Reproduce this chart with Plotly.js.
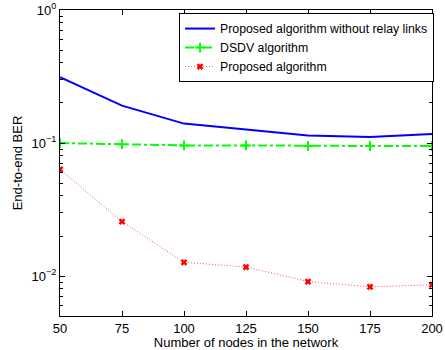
<!DOCTYPE html>
<html>
<head>
<meta charset="utf-8">
<script src="https://cdn.plot.ly/plotly-3.0.1.min.js"></script>
<style>html,body{margin:0;padding:0;background:#fff;}#chart{width:445px;height:350px;}</style>
</head>
<body>
<div id="chart"></div>
<script>
const nodes = [50, 75, 100, 125, 150, 175, 200];
const berNoRelay = [0.313, 0.191, 0.140, 0.127, 0.114, 0.111, 0.117];
const berDSDV = [0.100, 0.098, 0.096, 0.096, 0.095, 0.095, 0.095];
const berProposed = [0.0633, 0.0257, 0.0127, 0.0117, 0.0091, 0.0083, 0.0086];
const seriesNames = ['Proposed algorithm without relay links', 'DSDV algorithm', 'Proposed algorithm'];
const xTicks = [50, 75, 100, 125, 150, 175, 200];
const yTicks = [0.01, 0.1, 1];
const yTickText = ['10<sup>−2</sup>', '10<sup>−1</sup>', '10<sup>0</sup>'];
const yMinor = [0.006, 0.007, 0.008, 0.009, 0.02, 0.03, 0.04, 0.05, 0.06, 0.07, 0.08, 0.09, 0.2, 0.3, 0.4, 0.5, 0.6, 0.7, 0.8, 0.9];

const axFont = {family: '"Liberation Sans", Arial, sans-serif', size: 13, color: '#000'};
const legFont = {family: '"Liberation Sans", Arial, sans-serif', size: 12.3, color: '#000'};

const traces = [
  {x: nodes, y: berNoRelay, name: seriesNames[0], type: 'scatter', mode: 'lines',
   line: {color: '#0000ff', width: 2}},
  {x: nodes, y: berDSDV, name: seriesNames[1], type: 'scatter', mode: 'lines+markers',
   line: {color: '#00ff00', width: 2, dash: 'dashdot'},
   marker: {symbol: 'cross-thin', size: 7, line: {color: '#00ff00', width: 2}}},
  {x: nodes, y: berProposed, name: seriesNames[2], type: 'scatter', mode: 'lines+markers',
   line: {color: '#ff5050', width: 1, dash: '1px,2px'},
   marker: {symbol: 'x-thin', size: 5, color: '#ff0000', line: {color: '#ff0000', width: 2.5}}}
];

const layout = {
  width: 445, height: 350,
  margin: {l: 60, r: 13, t: 10, b: 34, autoexpand: false},
  paper_bgcolor: '#fff', plot_bgcolor: '#fff',
  font: axFont,
  showlegend: true,
  legend: {x: 0.32, xanchor: 'left', y: 0.99, yanchor: 'top',
    bgcolor: '#fff', bordercolor: '#000', borderwidth: 1,
    font: legFont, tracegroupgap: 0, itemwidth: 30},
  xaxis: {
    range: [50, 200], tickvals: xTicks, ticktext: xTicks.map(String),
    ticks: 'inside', ticklen: 5, tickcolor: '#000', tickwidth: 1,
    showline: true, linecolor: '#000', linewidth: 1, mirror: 'ticks',
    showgrid: false, zeroline: false, tickfont: axFont,
    title: {text: 'Number of nodes in the network', font: axFont, standoff: 1}
  },
  yaxis: {
    type: 'log', range: [-2.3, 0], tickvals: yTicks, ticktext: yTickText,
    ticks: 'inside', ticklen: 5, tickcolor: '#000', tickwidth: 1,
    showline: true, linecolor: '#000', linewidth: 1, mirror: 'ticks',
    showgrid: false, zeroline: false, tickfont: axFont,
    minor: {tickvals: yMinor, ticks: 'inside', ticklen: 3, tickcolor: '#000', showgrid: false},
    title: {text: 'End-to-end BER', font: axFont, standoff: 6}
  }
};

Plotly.newPlot('chart', traces, layout, {displayModeBar: false, staticPlot: true});
</script>
</body>
</html>
